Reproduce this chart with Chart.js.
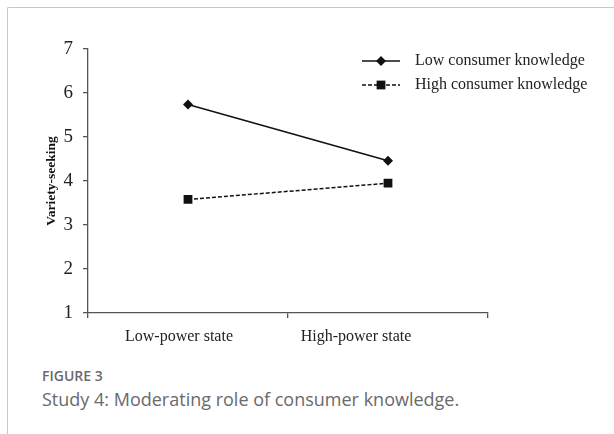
<!DOCTYPE html>
<html>
<head>
<meta charset="utf-8">
<script src="https://cdn.jsdelivr.net/npm/chart.js@4/dist/chart.umd.min.js"></script>
<style>
  html, body { margin: 0; padding: 0; background: #fff; }
  body { width: 614px; height: 434px; position: relative; overflow: hidden; }
  .card { position: absolute; left: 7px; top: 7px; width: 640px; height: 460px;
          border-top: 1.5px solid #c8c8c8; border-left: 1.5px solid #c8c8c8; border-top-left-radius: 2px; }
  #chart { position: absolute; left: 0; top: 0; }
  .figlabel { position: absolute; left: 42px; top: 366px; font-family: "Open Sans", sans-serif;
              font-size: 14px; font-weight: 600; color: #6a6a6a; }
  .figcap { position: absolute; left: 42px; top: 387px; font-family: "Open Sans", sans-serif;
            font-size: 18px; color: #6a6a6a; }
</style>
</head>
<body>
<div class="card"></div>
<canvas id="chart" width="614" height="355"></canvas>
<div class="figlabel">FIGURE 3</div>
<div class="figcap">Study 4: Moderating role of consumer knowledge.</div>
<script>
// data
var states = ['Low-power state', 'High-power state'];
var lowKnowledge = [5.74, 4.46];
var highKnowledge = [3.58, 3.95];
var seriesNames = ['Low consumer knowledge', 'High consumer knowledge'];
var yTicks = [1, 2, 3, 4, 5, 6, 7];

var serif = '"Liberation Serif", "Times New Roman", serif';

// the original category labels sit a bit left of their category centres
var labelShift = [-9, -32];

// legend with line + marker samples, drawn at top right
var lineLegend = {
  id: 'lineLegend',
  afterDatasetsDraw: function(chart) {
    var ctx = chart.ctx;
    var rows = [61, 85];
    chart.data.datasets.forEach(function(ds, i) {
      var y = rows[i];
      ctx.save();
      ctx.strokeStyle = ds.borderColor;
      ctx.lineWidth = ds.borderWidth;
      ctx.setLineDash(ds.borderDash || []);
      ctx.beginPath();
      ctx.moveTo(362, y);
      ctx.lineTo(400, y);
      ctx.stroke();
      ctx.setLineDash([]);
      ctx.fillStyle = ds.pointBackgroundColor;
      Chart.helpers.drawPoint(ctx, {pointStyle: ds.pointStyle, radius: ds.pointRadius, borderWidth: 0}, 381, y);
      ctx.fillStyle = '#222';
      ctx.font = '16px ' + serif;
      ctx.textBaseline = 'middle';
      ctx.fillText(ds.label, 415, y);
      ctx.restore();
    });

    // x category labels
    var xs = chart.scales.x;
    ctx.save();
    ctx.fillStyle = '#222';
    ctx.font = '16px ' + serif;
    ctx.textAlign = 'center';
    ctx.textBaseline = 'middle';
    chart.data.labels.forEach(function(lab, i) {
      ctx.fillText(lab, xs.getPixelForTick(i) + labelShift[i], xs.top + 24);
    });
    ctx.restore();
  }
};

new Chart(document.getElementById('chart'), {
  type: 'line',
  data: {
    labels: states,
    datasets: [{
      label: seriesNames[0],
      data: lowKnowledge,
      borderColor: '#111',
      borderWidth: 1.5,
      pointStyle: 'rectRot',
      pointRadius: 5,
      pointBackgroundColor: '#111',
      pointBorderWidth: 0
    }, {
      label: seriesNames[1],
      data: highKnowledge,
      borderColor: '#111',
      borderWidth: 1.5,
      borderDash: [4, 2],
      pointStyle: 'rect',
      pointRadius: 6.2,
      pointBackgroundColor: '#111',
      pointBorderWidth: 0
    }]
  },
  options: {
    responsive: false,
    animation: false,
    layout: { padding: { top: 49, right: 126, left: 0, bottom: 0 } },
    plugins: { legend: { display: false }, tooltip: { enabled: false } },
    scales: {
      x: {
        offset: true,
        grid: { offset: true, drawOnChartArea: false, drawTicks: true, tickLength: 5, color: '#555', lineWidth: 1.3 },
        border: { color: '#555', width: 1.3 },
        ticks: { display: false },
        afterFit: function(scale) { scale.height = 42; }
      },
      y: {
        min: yTicks[0],
        max: yTicks[yTicks.length - 1],
        afterBuildTicks: function(scale) { scale.ticks = yTicks.map(function(v) { return {value: v}; }); },
        grid: { drawOnChartArea: false, drawTicks: true, tickLength: 5, color: '#555', lineWidth: 1.3 },
        border: { color: '#555', width: 1.3 },
        ticks: { color: '#222', padding: 10, font: { family: serif, size: 19 } },
        title: {
          display: true,
          text: 'Variety-seeking',
          color: '#111',
          padding: { top: 43, bottom: 0 },
          font: { family: serif, size: 13.5, weight: 'bold' }
        },
        afterFit: function(scale) { scale.width = 88; }
      }
    }
  },
  plugins: [lineLegend]
});
</script>
</body>
</html>
